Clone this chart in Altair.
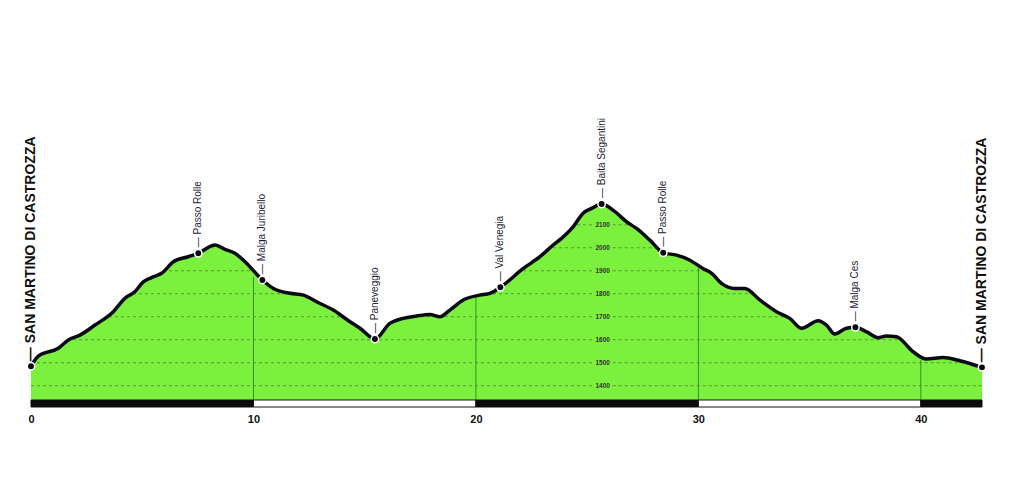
import altair as alt
import pandas as pd

# ---- profile (km, elevation m) ----
profile_km = [0, 0.33, 1.23, 1.68, 2.2, 2.88, 3.7, 4.22, 4.67, 5.05, 5.42, 5.87, 6.4, 7.07, 7.52,
              8.27, 8.72, 9.17, 9.62, 10.4, 10.9, 11.64, 12.24, 12.84, 13.59, 14.34, 14.79, 15.46,
              16.13, 16.73, 17.33, 17.93, 18.38, 18.83, 19.43, 20.18, 20.63, 21.1, 22.13, 22.88,
              23.47, 23.85, 24.37, 24.82, 25.2, 25.65, 26.25, 26.77, 27.22, 27.82, 28.42, 29.02,
              29.6, 30.2, 30.6, 31.04, 31.64, 32.09, 32.76, 33.51, 34.11, 34.64, 35.39, 35.76,
              36.13, 36.66, 37.06, 37.55, 38.07, 38.45, 38.9, 39.65, 40.25, 41.0, 41.75, 42.75]
profile_elev = [1485, 1529, 1563, 1599, 1620, 1664, 1722, 1780, 1809, 1852, 1870, 1889, 1939, 1961, 1976,
                2012, 1993, 1976, 1939, 1860, 1823, 1802, 1794, 1765, 1729, 1678, 1650, 1603,
                1671, 1693, 1703, 1710, 1700, 1729, 1773, 1794, 1802, 1828, 1910, 1961,
                2012, 2041, 2091, 2150, 2171, 2190, 2157, 2113, 2084, 2033, 1978, 1968,
                1947, 1910, 1889, 1845, 1823, 1823, 1773, 1722, 1693, 1650, 1683, 1664,
                1625, 1650, 1654, 1635, 1609, 1616, 1613, 1548, 1516, 1523, 1509, 1480]

# ---- waypoints ----
wp_names = ["SAN MARTINO DI CASTROZZA", "Passo Rolle", "Malga Juribello", "Paneveggio",
            "Val Venegia", "Baita Segantini", "Passo Rolle", "Malga Ces", "SAN MARTINO DI CASTROZZA"]
wp_km = [0, 7.52, 10.4, 15.46, 21.1, 25.65, 28.42, 37.06, 42.75]
wp_elev = [1485, 1976, 1860, 1603, 1828, 2190, 1978, 1654, 1480]
wp_town = [True, False, False, False, False, False, False, False, True]

# ---- km markers ----
km_ticks = [0, 10, 20, 30, 40]
km_rule_km = [10, 20, 30, 40]
km_rule_top = [1874, 1784, 1912, 1512]
strip_start = [0, 10, 20, 30, 40]
strip_end = [10, 20, 30, 40, 42.75]
strip_color = ["#0b0b0b", "#ffffff", "#0b0b0b", "#ffffff", "#0b0b0b"]

# ---- elevation grid ----
grid_levels = [1400, 1500, 1600, 1700, 1800, 1900, 2000, 2100]
grid_label_km = 25.7
grid_gap = (25.25, 26.15)

BASE = 1338
STRIP_BOTTOM = 1307.6
TOP = 2642.4
KM_MAX = 42.75

prof = pd.DataFrame({"km": profile_km, "elev": profile_elev})
wps = pd.DataFrame({"name": wp_names, "km": wp_km, "elev": wp_elev, "town": wp_town})
rules = pd.DataFrame({"km": km_rule_km, "top": km_rule_top})
strip = pd.DataFrame({"a": strip_start, "b": strip_end, "c": strip_color})
grid_rows = []
for lv in grid_levels:
    grid_rows.append({"a": 0, "b": grid_gap[0], "lv": lv})
    grid_rows.append({"a": grid_gap[1], "b": KM_MAX, "lv": lv})
grid = pd.DataFrame(grid_rows)
grid_lbl = pd.DataFrame({"lv": grid_levels, "km": [grid_label_km] * len(grid_levels)})

xs = alt.Scale(domain=[0, KM_MAX], nice=False, zero=False)
ys = alt.Scale(domain=[STRIP_BOTTOM, TOP], nice=False, zero=False)
FONT = "Liberation Sans"

xaxis = alt.Axis(values=km_ticks, domain=False, ticks=False, grid=False, labelFontSize=11,
                 labelFontWeight="bold", labelColor="#111", labelPadding=6, labelFlush=False,
                 labelFont=FONT, title=None, format="d")

area = alt.Chart(prof).mark_area(color="#7BF13D", interpolate="monotone").encode(
    x=alt.X("km:Q", scale=xs, axis=xaxis),
    y=alt.Y("elev:Q", scale=ys, axis=None),
    y2=alt.datum(BASE),
)

gridlines = alt.Chart(grid).mark_rule(color="#4d8a35", strokeWidth=1, strokeDash=[3, 3], opacity=0.85).encode(
    x=alt.X("a:Q", scale=xs), x2="b:Q", y=alt.Y("lv:Q", scale=ys)
)

grid_text = alt.Chart(grid_lbl).mark_text(fontSize=6.5, color="#333", font=FONT, fontWeight="bold",
                                          align="center", baseline="middle").encode(
    x=alt.X("km:Q", scale=xs), y=alt.Y("lv:Q", scale=ys), text=alt.Text("lv:Q", format="d")
)

sky = alt.Chart(prof).mark_area(color="white", interpolate="monotone").encode(
    x=alt.X("km:Q", scale=xs), y=alt.Y("elev:Q", scale=ys), y2=alt.datum(TOP)
)

km_rules = alt.Chart(rules).mark_rule(color="#3f8a2c", strokeWidth=1).encode(
    x=alt.X("km:Q", scale=xs), y=alt.Y("top:Q", scale=ys), y2=alt.datum(BASE)
)

strip_rect = alt.Chart(strip).mark_rect(stroke="#111", strokeWidth=1).encode(
    x=alt.X("a:Q", scale=xs), x2="b:Q",
    y=alt.datum(BASE), y2=alt.datum(STRIP_BOTTOM),
    color=alt.Color("c:N", scale=None),
)

line = alt.Chart(prof).mark_line(color="#0a0a14", strokeWidth=3.5, interpolate="monotone",
                                 strokeJoin="round", strokeCap="round").encode(
    x=alt.X("km:Q", scale=xs), y=alt.Y("elev:Q", scale=ys)
)

pts = alt.Chart(wps).mark_circle(color="#0a0a14", opacity=1, stroke="white", strokeWidth=1.5, size=55).encode(
    x=alt.X("km:Q", scale=xs), y=alt.Y("elev:Q", scale=ys)
)

lbl_small = alt.Chart(wps).transform_filter("!datum.town").transform_calculate(
    t="'\u2014 ' + datum.name"
).mark_text(angle=270, align="left", baseline="middle", dx=6, fontSize=10, font=FONT,
            color="#1b1f3b").encode(
    x=alt.X("km:Q", scale=xs), y=alt.Y("elev:Q", scale=ys), text="t:N"
)

lbl_town = alt.Chart(wps).transform_filter("datum.town").transform_calculate(
    t="'\u2014 ' + datum.name"
).mark_text(angle=270, align="left", baseline="middle", dx=5, fontSize=14, font=FONT,
            fontWeight="bold", color="#111").encode(
    x=alt.X("km:Q", scale=xs), y=alt.Y("elev:Q", scale=ys), text="t:N"
)

chart = alt.layer(area, gridlines, grid_text, sky, km_rules, strip_rect, line, pts, lbl_small, lbl_town).properties(
    width=951, height=307,
    padding={"left": 23, "top": 92, "right": 18, "bottom": 30},
    autosize=alt.AutoSizeParams(type="none"),
).configure_view(stroke=None)

chart.save("out.html", embed_options={"renderer": "svg", "actions": False})
